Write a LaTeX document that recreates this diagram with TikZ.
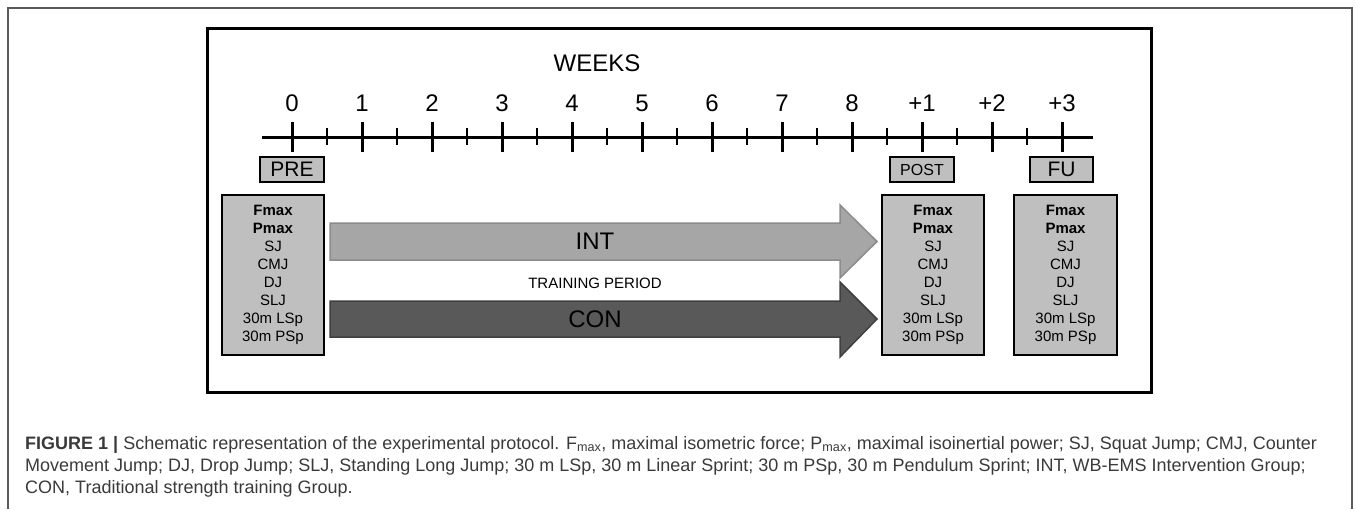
\documentclass[tikz,border=0pt]{standalone}
\usepackage{fontspec}
\setmainfont{Liberation Sans}
\newfontfamily\capfont{Liberation Sans}
\definecolor{boxgray}{HTML}{BFBFBF}
\definecolor{intfill}{HTML}{A6A6A6}
\definecolor{intdraw}{HTML}{8C8C8C}
\definecolor{confill}{HTML}{595959}
\definecolor{condraw}{HTML}{404040}
\definecolor{captext}{HTML}{3A3A3A}
\definecolor{outerline}{HTML}{5A5A5A}
\begin{document}
\begin{tikzpicture}[x=1pt,y=-1pt,
  numlab/.style={font=\fontsize{24}{24}\selectfont, inner sep=0pt},
  tagbox/.style={draw, line width=2pt, fill=boxgray, inner sep=0pt, minimum height=25pt},
  measbox/.style={draw, line width=2pt, fill=boxgray, inner sep=0pt, minimum height=160pt, align=center, font=\fontsize{15}{18}\selectfont},
  arrowlab/.style={font=\fontsize{24}{24}\selectfont, inner sep=0pt},
  captionline/.style={anchor=base west, inner sep=0pt, text=captext, font=\capfont\fontsize{18}{18}\selectfont}
]
\useasboundingbox (0,0) rectangle (1357,509);
% outer frame (open at bottom)
\draw[outerline, line width=1.2pt] (8,509) -- (8,8) -- (1352,8) -- (1352,509);
% inner frame
\draw[line width=3pt] (207,28) rectangle (1151,392);
% title
\node[font=\fontsize{24}{24}\selectfont, inner sep=0pt] (weeks) at (597,63) {WEEKS};
% timeline
\coordinate (tlstart) at (262,137);
\coordinate (tlend) at (1093,137);
\draw[line width=3pt] (tlstart) -- (tlend);
\foreach \i/\lab in {0/0,1/1,2/2,3/3,4/4,5/5,6/6,7/7,8/8,9/+1,10/+2,11/+3}{
  \draw[line width=3pt] ({292+70*\i},122) -- ({292+70*\i},152);
  \node[numlab] (w\i) at ({292+70*\i},103) {\lab};
}
\foreach \i in {0,...,10}{
  \draw[line width=1.5pt] ({327+70*\i},128) -- ({327+70*\i},145);
}
% tag boxes
\node[tagbox, minimum width=64pt, font=\fontsize{21}{21}\selectfont] (pre) at (292,169.5) {PRE};
\node[tagbox, minimum width=64pt, font=\fontsize{16}{16}\selectfont] (post) at (922,169.5) {POST};
\node[tagbox, minimum width=63pt, font=\fontsize{21}{21}\selectfont] (fu) at (1061.5,169.5) {FU};
% measurement boxes
\node[measbox, minimum width=102pt] (mpre) at (273,275) {\textbf{Fmax}\\\textbf{Pmax}\\SJ\\CMJ\\DJ\\SLJ\\30m LSp\\30m PSp};
\node[measbox, minimum width=102pt] (mpost) at (933,275) {\textbf{Fmax}\\\textbf{Pmax}\\SJ\\CMJ\\DJ\\SLJ\\30m LSp\\30m PSp};
\node[measbox, minimum width=103pt] (mfu) at (1065.5,275) {\textbf{Fmax}\\\textbf{Pmax}\\SJ\\CMJ\\DJ\\SLJ\\30m LSp\\30m PSp};
% block arrows
\draw[fill=intfill, draw=intdraw, line width=1.5pt, line join=miter]
  (330,223) -- (840,223) -- (840,205) -- (877,241.5) -- (840,278) -- (840,260) -- (330,260) -- cycle;
\draw[fill=confill, draw=condraw, line width=1.5pt, line join=miter]
  (330,301) -- (840,301) -- (840,282) -- (877,319) -- (840,357) -- (840,337) -- (330,337) -- cycle;
\node[arrowlab] (int) at (595,241.5) {INT};
\node[arrowlab] (con) at (595,319) {CON};
\node[font=\fontsize{15}{15}\selectfont, inner sep=0pt] (train) at (595,283) {TRAINING PERIOD};
% caption
\node[captionline] (cap1) at (25,449) {\textbf{FIGURE 1 |} Schematic representation of the experimental protocol. F\textsubscript{max}, maximal isometric force; P\textsubscript{max}, maximal isoinertial power; SJ, Squat Jump; CMJ, Counter};
\node[captionline] (cap2) at (25,471) {Movement Jump; DJ, Drop Jump; SLJ, Standing Long Jump; 30 m LSp, 30 m Linear Sprint; 30 m PSp, 30 m Pendulum Sprint; INT, WB-EMS Intervention Group;};
\node[captionline] (cap3) at (25,493) {CON, Traditional strength training Group.};
\end{tikzpicture}
\end{document}
